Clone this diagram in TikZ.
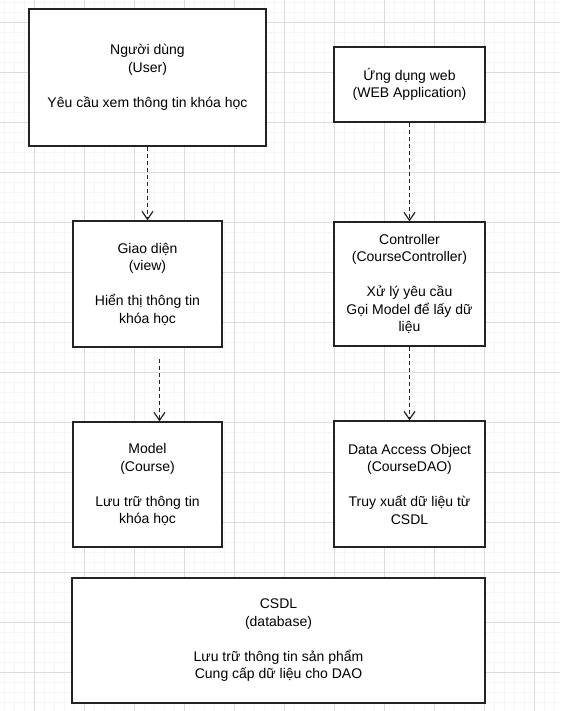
\documentclass[tikz,border=0pt]{standalone}
\usepackage{fontspec}
\setmainfont{Liberation Sans}
\usetikzlibrary{arrows.meta}

\definecolor{gridminor}{RGB}{245,245,245}
\definecolor{gridmajor}{RGB}{220,220,220}
\definecolor{boxline}{RGB}{35,35,35}

\tikzset{
  block/.style={draw=boxline, line width=1.3pt, fill=white, rectangle, align=center,
    inner sep=0pt, font=\fontsize{14}{17.5}\selectfont},
  flow/.style={draw=boxline, line width=1.3pt, dash pattern=on 4pt off 3pt,
    -{Straight Barb[length=8pt,width=11pt,line width=1.2pt]}}
}

\begin{document}
\begin{tikzpicture}[x=1pt, y=-1pt]
\useasboundingbox (0,0) rectangle (560,711);
% Background grid
\fill[white] (0,0) rectangle (560,711);
\foreach \gx in {4,14,...,554} \draw[gridminor, line width=0.8pt] (\gx,0) -- (\gx,711);
\foreach \gy in {2,12,...,702} \draw[gridminor, line width=0.8pt] (0,\gy) -- (560,\gy);
\foreach \gx in {34,84,...,534} \draw[gridmajor, line width=0.8pt] (\gx,0) -- (\gx,711);
\foreach \gy in {22,72,...,672} \draw[gridmajor, line width=0.8pt] (0,\gy) -- (560,\gy);

% Left column
\node[block, minimum width=237pt, minimum height=137pt] (user) at (147.5,77.5)
  {Người dùng\\(User)\\[17.5pt]Yêu cầu xem thông tin khóa học};
\node[block, minimum width=149pt, minimum height=126pt] (view) at (147.5,284)
  {Giao diện\\(view)\\[17.5pt]Hiển thị thông tin\\khóa học};
\node[block, minimum width=149pt, minimum height=125pt] (model) at (147.5,484.5)
  {Model\\(Course)\\[17.5pt]Lưu trữ thông tin\\khóa học};

% Right column
\node[block, minimum width=151pt, minimum height=75pt] (webapp) at (409.5,84.5)
  {Ứng dụng web\\(WEB Application)};
\node[block, minimum width=151pt, minimum height=124pt] (controller) at (409.5,284)
  {Controller\\(CourseController)\\[17.5pt]Xử lý yêu cầu\\Gọi Model để lấy dữ\\liệu};
\node[block, minimum width=151pt, minimum height=126pt] (dao) at (409.5,484)
  {Data Access Object\\(CourseDAO)\\[17.5pt]Truy xuất dữ liệu từ\\CSDL};

% Database
\node[block, minimum width=413pt, minimum height=125pt] (db) at (278.5,640.5)
  {CSDL\\(database)\\[17.5pt]Lưu trữ thông tin sản phẩm\\Cung cấp dữ liệu cho DAO};

% Connectors
\coordinate (viewout) at (159.5,359);
\draw[flow] (user.south) -- (view.north);
\draw[flow] (viewout) -- (viewout |- model.north);
\draw[flow] (webapp.south) -- (controller.north);
\draw[flow] (controller.south) -- (dao.north);
\end{tikzpicture}
\end{document}
